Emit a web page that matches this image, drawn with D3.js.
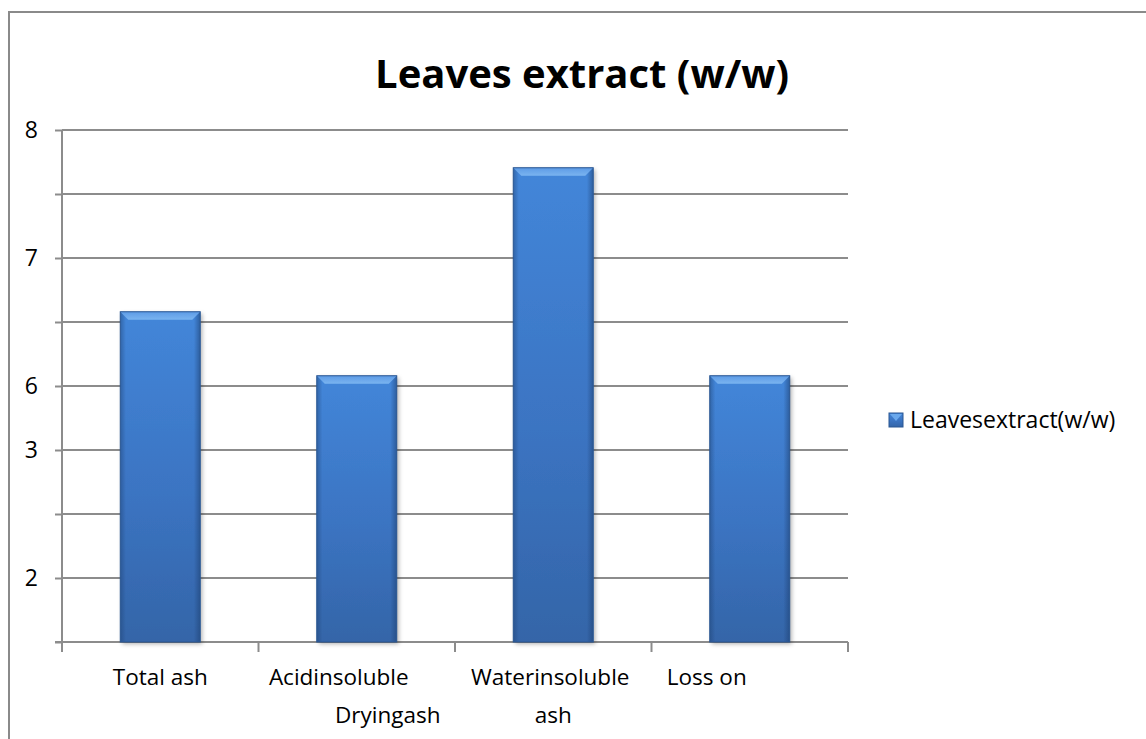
<!DOCTYPE html>
<html>
<head>
<meta charset="utf-8">
<script src="https://cdn.jsdelivr.net/npm/d3@7/dist/d3.min.js"></script>
<style>
  html, body { margin: 0; padding: 0; background: #fff; }
  svg { display: block; }
  text { font-family: "Open Sans", "Liberation Sans", sans-serif; fill: #000; }
</style>
</head>
<body>
<svg id="chart" width="1146" height="739"></svg>
<script>
// Chart data
const categories = ["Total ash", "Acid insoluble ash", "Water insoluble ash", "Loss on Drying"];
const categoryLines = [["Total ash"], ["Acidinsoluble", "Dryingash"], ["Waterinsoluble", "ash"], ["Loss on"]];
const values = [5.16, 4.16, 7.41, 4.16];
const tickValues = [0, 1, 2, 3, 4, 5, 6, 7, 8];
const tickLabels = ["", "2", "", "3", "6", "", "7", "", "8"];
const seriesName = "Leavesextract(w/w)";
const titleText = "Leaves extract (w/w)";

const svg = d3.select("#chart");
const W = 1146, H = 739;
const plot = { left: 62, right: 848, top: 130, bottom: 642 };

// Outer chart frame
svg.append("rect")
  .attr("x", 9).attr("y", 12)
  .attr("width", W + 20).attr("height", H + 20)
  .attr("fill", "#fff").attr("stroke", "#8a8a8a").attr("stroke-width", 2);

const defs = svg.append("defs");
const barGrad = defs.append("linearGradient").attr("id", "barFill")
  .attr("x1", 0).attr("y1", 0).attr("x2", 0).attr("y2", 1);
barGrad.append("stop").attr("offset", "0%").attr("stop-color", "#4386d9");
barGrad.append("stop").attr("offset", "55%").attr("stop-color", "#3b74c2");
barGrad.append("stop").attr("offset", "100%").attr("stop-color", "#3465a8");

const edgeGrad = defs.append("linearGradient").attr("id", "barEdge")
  .attr("x1", 0).attr("y1", 0).attr("x2", 1).attr("y2", 0);
edgeGrad.append("stop").attr("offset", "0%").attr("stop-color", "#1d3f70").attr("stop-opacity", 0.45);
edgeGrad.append("stop").attr("offset", "7%").attr("stop-color", "#1d3f70").attr("stop-opacity", 0);
edgeGrad.append("stop").attr("offset", "92%").attr("stop-color", "#1d3f70").attr("stop-opacity", 0);
edgeGrad.append("stop").attr("offset", "100%").attr("stop-color", "#1d3f70").attr("stop-opacity", 0.55);

const bevelGrad = defs.append("linearGradient").attr("id", "bevelFill")
  .attr("x1", 0).attr("y1", 0).attr("x2", 0).attr("y2", 1);
bevelGrad.append("stop").attr("offset", "0%").attr("stop-color", "#5d9be6");
bevelGrad.append("stop").attr("offset", "100%").attr("stop-color", "#7ab4f0");

const shadow = defs.append("filter").attr("id", "barShadow")
  .attr("x", "-20%").attr("y", "-5%").attr("width", "140%").attr("height", "115%");
shadow.append("feDropShadow").attr("dx", 2).attr("dy", 2).attr("stdDeviation", 2)
  .attr("flood-color", "#000").attr("flood-opacity", 0.3);

// Scales
const x = d3.scaleBand().domain(categories)
  .range([plot.left, plot.right])
  .paddingInner(0.593).paddingOuter(0.2965);
const y = d3.scaleLinear().domain([0, 8]).range([plot.bottom, plot.top]);

// Horizontal gridlines
svg.append("g").selectAll("line").data(tickValues).join("line")
  .attr("x1", plot.left).attr("x2", plot.right)
  .attr("y1", d => y(d)).attr("y2", d => y(d))
  .attr("stroke", "#8c8c8c").attr("stroke-width", 2);

// Y axis
const yAxis = svg.append("g").attr("transform", `translate(${plot.left},0)`)
  .call(d3.axisLeft(y).tickValues(tickValues).tickSize(7).tickPadding(17)
    .tickFormat((d, i) => tickLabels[i]));
yAxis.select(".domain").attr("stroke", "#8c8c8c").attr("stroke-width", 2).attr("d", `M0,${plot.top}V${plot.bottom}`);
yAxis.selectAll(".tick line").attr("stroke", "#8c8c8c").attr("stroke-width", 2);
yAxis.selectAll(".tick text").attr("font-size", 23).attr("font-family", "Open Sans").attr("fill", "#000");

// X axis tick marks at category boundaries
const boundaries = d3.range(categories.length + 1).map(i => plot.left + i * x.step());
svg.append("g").selectAll("line").data(boundaries).join("line")
  .attr("x1", d => d).attr("x2", d => d)
  .attr("y1", plot.bottom).attr("y2", plot.bottom + 10)
  .attr("stroke", "#8c8c8c").attr("stroke-width", 2);
svg.append("line")
  .attr("x1", plot.left - 7).attr("x2", plot.right)
  .attr("y1", plot.bottom).attr("y2", plot.bottom)
  .attr("stroke", "#8c8c8c").attr("stroke-width", 2);

// Bars with bevelled top
const bars = svg.append("g").selectAll("g").data(categories).join("g");
bars.each(function(c, i) {
  const g = d3.select(this);
  const x0 = x(c), w = x.bandwidth();
  const top = y(values[i]), bot = y(0);
  g.append("rect").attr("x", x0).attr("y", top).attr("width", w).attr("height", bot - top)
    .attr("fill", "url(#barFill)").attr("filter", "url(#barShadow)");
  g.append("rect").attr("x", x0).attr("y", top).attr("width", w).attr("height", bot - top)
    .attr("fill", "url(#barEdge)");
  const b = 8;
  g.append("path")
    .attr("d", `M${x0},${top}H${x0 + w}L${x0 + w - b},${top + b}H${x0 + b}Z`)
    .attr("fill", "url(#bevelFill)");
  g.append("rect").attr("x", x0).attr("y", top).attr("width", w).attr("height", bot - top)
    .attr("fill", "none").attr("stroke", "#2b5792").attr("stroke-width", 1);
});

// Category labels (two lines where wrapped)
const lineShift = [[0], [-18, 31], [-3, 0], [-43]];
categories.forEach((c, i) => {
  const cx = x(c) + x.bandwidth() / 2;
  categoryLines[i].forEach((t, j) => {
    svg.append("text")
      .attr("x", cx + lineShift[i][j]).attr("y", 685 + j * 38)
      .attr("text-anchor", "middle").attr("font-size", 22.5)
      .text(t);
  });
});

// Title
svg.append("text")
  .attr("x", 582).attr("y", 88)
  .attr("text-anchor", "middle")
  .attr("font-size", 40).attr("font-weight", "bold")
  .attr("font-family", "Open Sans")
  .text(titleText);

// Legend
const lg = svg.append("g").attr("transform", "translate(889,413)");
lg.append("rect").attr("width", 14).attr("height", 14).attr("fill", "url(#barFill)").attr("stroke", "#2b5792");
lg.append("path").attr("d", "M1,1H13L7,8Z").attr("fill", "#6aa8ec");
lg.append("text").attr("x", 21).attr("y", 15).attr("font-size", 23).text(seriesName);
</script>
</body>
</html>
